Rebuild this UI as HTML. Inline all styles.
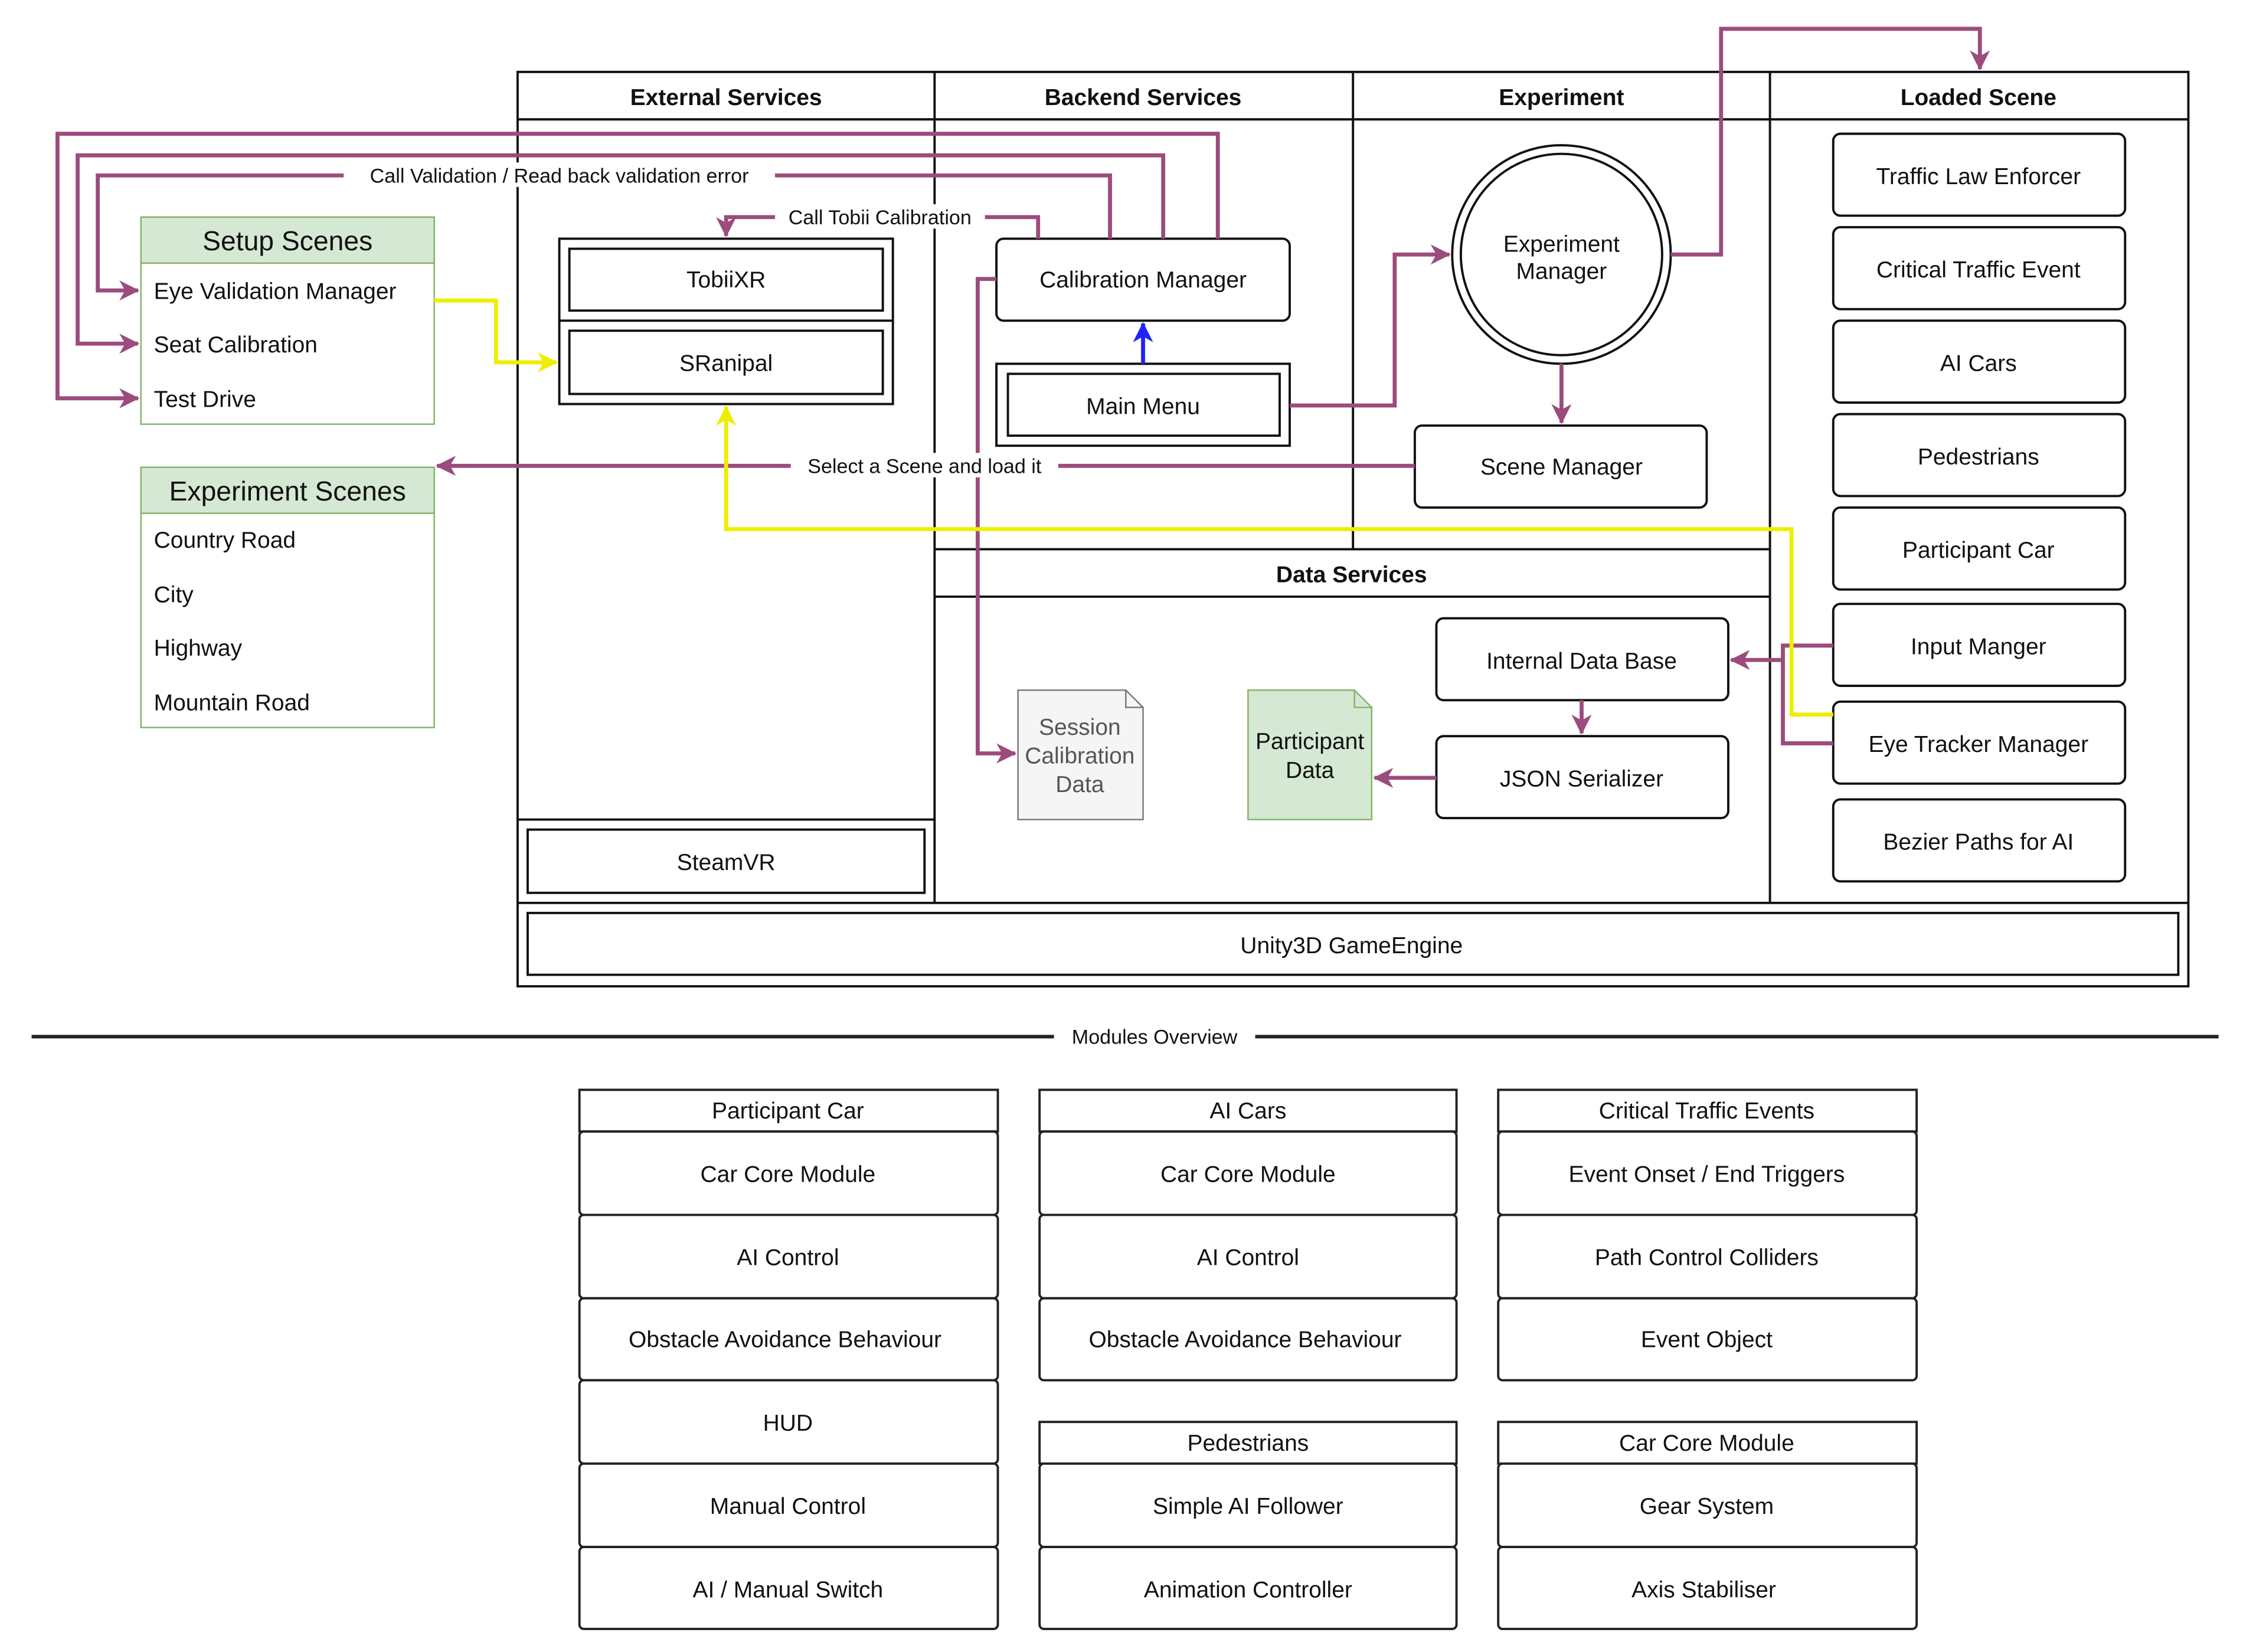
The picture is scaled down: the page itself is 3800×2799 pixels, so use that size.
<!DOCTYPE html>
<html><head><meta charset="utf-8"><style>
html,body{margin:0;padding:0;background:#fff;}
svg{display:block;}
text{font-family:"Liberation Sans",sans-serif;fill:#111;}
</style></head><body>
<svg width="3800" height="2799" viewBox="0 0 1560 1149" xmlns="http://www.w3.org/2000/svg">
<defs>
<marker id="ap" markerWidth="14" markerHeight="14" refX="13" refY="7" orient="auto" markerUnits="userSpaceOnUse"><path d="M0,0 L14,7 L0,14 L4,7 z" fill="#9b4c7c"/></marker>
<marker id="ay" markerWidth="14" markerHeight="14" refX="13" refY="7" orient="auto" markerUnits="userSpaceOnUse"><path d="M0,0 L14,7 L0,14 L4,7 z" fill="#eeee00"/></marker>
<marker id="ab" markerWidth="14" markerHeight="14" refX="13" refY="7" orient="auto" markerUnits="userSpaceOnUse"><path d="M0,0 L14,7 L0,14 L4,7 z" fill="#2222ff"/></marker>
</defs>
<rect width="1560" height="1149" fill="#fff"/>
<g fill="none" stroke="#111" stroke-width="1.6">
<rect x="360" y="50" width="1162" height="636"/>
<line x1="360" y1="83" x2="1522" y2="83"/>
<line x1="650" y1="50" x2="650" y2="628"/>
<line x1="941" y1="50" x2="941" y2="382"/>
<line x1="1231" y1="50" x2="1231" y2="628"/>
<line x1="650" y1="382" x2="1231" y2="382"/>
<line x1="650" y1="415" x2="1231" y2="415"/>
<line x1="360" y1="570" x2="650" y2="570"/>
<line x1="360" y1="628" x2="1522" y2="628"/>
<rect x="367" y="635" width="1148" height="43"/>
<rect x="367" y="577" width="276" height="44"/>
<rect x="389" y="166" width="232" height="115"/>
<line x1="389" y1="223" x2="621" y2="223"/>
<rect x="396" y="173" width="218" height="43"/>
<rect x="396" y="230" width="218" height="44"/>
<rect x="693" y="166" width="204" height="57" rx="5"/>
<rect x="693" y="253" width="204" height="57"/>
<rect x="701" y="260" width="189" height="43"/>
<circle cx="1086" cy="177" r="76"/>
<circle cx="1086" cy="177" r="70"/>
<rect x="984" y="296" width="203" height="57" rx="5"/>
<rect x="999" y="430" width="203" height="57" rx="5"/>
<rect x="999" y="512" width="203" height="57" rx="5"/>
<rect x="1275" y="93" width="203" height="57" rx="5"/>
<rect x="1275" y="158" width="203" height="57" rx="5"/>
<rect x="1275" y="223" width="203" height="57" rx="5"/>
<rect x="1275" y="288" width="203" height="57" rx="5"/>
<rect x="1275" y="353" width="203" height="57" rx="5"/>
<rect x="1275" y="420" width="203" height="57" rx="5"/>
<rect x="1275" y="488" width="203" height="57" rx="5"/>
<rect x="1275" y="556" width="203" height="57" rx="5"/>
</g>
<path d="M708,480 H783 L795,492 V570 H708 Z" fill="#f5f5f5" stroke="#777" stroke-width="1"/>
<path d="M783,480 V492 H795" fill="none" stroke="#777"/>
<path d="M868,480 H942 L954,492 V570 H868 Z" fill="#d5e8d4" stroke="#82b366" stroke-width="1"/>
<path d="M942,480 V492 H954" fill="none" stroke="#82b366"/>
<rect x="98" y="151" width="204" height="144" fill="#fff" stroke="#82b366"/>
<rect x="98" y="151" width="204" height="32" fill="#d5e8d4" stroke="#82b366"/>
<rect x="98" y="325" width="204" height="181" fill="#fff" stroke="#82b366"/>
<rect x="98" y="325" width="204" height="32" fill="#d5e8d4" stroke="#82b366"/>
<g fill="none" stroke="#9b4c7c" stroke-width="2.8">
<path d="M847,166 V93 H40 V277 H96" marker-end="url(#ap)"/>
<path d="M809,166 V108 H54 V239 H96" marker-end="url(#ap)"/>
<path d="M772,166 V122 H68 V202 H96" marker-end="url(#ap)"/>
<path d="M722,166 V151 H505 V164" marker-end="url(#ap)"/>
<path d="M693,194 H680 V524 H706" marker-end="url(#ap)"/>
<path d="M897,282 H970 V177 H1008" marker-end="url(#ap)"/>
<path d="M1162,177 H1197 V20 H1377 V48" marker-end="url(#ap)"/>
<path d="M1086,253 V294" marker-end="url(#ap)"/>
<path d="M984,324 H304" marker-end="url(#ap)"/>
<path d="M1275,449 H1240 V517 H1275"/>
<path d="M1240,459 H1204" marker-end="url(#ap)"/>
<path d="M1100,487 V510" marker-end="url(#ap)"/>
<path d="M999,541 H956" marker-end="url(#ap)"/>
</g>
<g fill="none" stroke="#eeee00" stroke-width="2.8">
<path d="M302,209 H345 V252 H387" marker-end="url(#ay)"/>
<path d="M1275,497 H1246 V368 H505 V283" marker-end="url(#ay)"/>
</g>
<path d="M795,253 V225" stroke="#2222ff" stroke-width="2.8" fill="none" marker-end="url(#ab)"/>
<g font-size="14" text-anchor="middle">
<rect x="239" y="113" width="300" height="17" fill="#fff"/>
<text x="389" y="127">Call Validation / Read back validation error</text>
<rect x="539" y="142" width="146" height="17" fill="#fff"/>
<text x="612" y="156">Call Tobii Calibration</text>
<rect x="550" y="315" width="186" height="17" fill="#fff"/>
<text x="643" y="329">Select a Scene and load it</text>
</g>
<g font-size="16" text-anchor="middle">
<text x="505" y="73" font-weight="bold">External Services</text>
<text x="795" y="73" font-weight="bold">Backend Services</text>
<text x="1086" y="73" font-weight="bold">Experiment</text>
<text x="1376" y="73" font-weight="bold">Loaded Scene</text>
<text x="940" y="405" font-weight="bold">Data Services</text>
<text x="505" y="200">TobiiXR</text>
<text x="505" y="258">SRanipal</text>
<text x="795" y="200">Calibration Manager</text>
<text x="795" y="288">Main Menu</text>
<text x="1086" y="175">Experiment</text>
<text x="1086" y="194">Manager</text>
<text x="1086" y="330">Scene Manager</text>
<text x="1100" y="465">Internal Data Base</text>
<text x="1100" y="547">JSON Serializer</text>
<text x="505" y="605">SteamVR</text>
<text x="940" y="663">Unity3D GameEngine</text>
<text x="1376" y="128">Traffic Law Enforcer</text>
<text x="1376" y="193">Critical Traffic Event</text>
<text x="1376" y="258">AI Cars</text>
<text x="1376" y="323">Pedestrians</text>
<text x="1376" y="388">Participant Car</text>
<text x="1376" y="455">Input Manger</text>
<text x="1376" y="523">Eye Tracker Manager</text>
<text x="1376" y="591">Bezier Paths for AI</text>
<text x="911" y="521">Participant</text>
<text x="911" y="541">Data</text>
<text x="751" y="511" style="fill:#555">Session</text>
<text x="751" y="531" style="fill:#555">Calibration</text>
<text x="751" y="551" style="fill:#555">Data</text>
<text x="200" y="174" font-size="19">Setup Scenes</text>
<text x="200" y="348" font-size="19">Experiment Scenes</text>
</g>
<g font-size="16">
<text x="107" y="208">Eye Validation Manager</text>
<text x="107" y="245">Seat Calibration</text>
<text x="107" y="283">Test Drive</text>
<text x="107" y="381">Country Road</text>
<text x="107" y="419">City</text>
<text x="107" y="456">Highway</text>
<text x="107" y="494">Mountain Road</text>
</g>
<line x1="22" y1="721" x2="1543" y2="721" stroke="#222" stroke-width="2.5"/>
<rect x="733" y="712" width="140" height="18" fill="#fff"/>
<text x="803" y="726" font-size="14" text-anchor="middle">Modules Overview</text>
<g fill="#fff" stroke="#222" stroke-width="1.6">
<rect x="403" y="758" width="291" height="29"/>
<rect x="403" y="787" width="291" height="58" rx="3"/>
<rect x="403" y="845" width="291" height="58" rx="3"/>
<rect x="403" y="903" width="291" height="57" rx="3"/>
<rect x="403" y="960" width="291" height="58" rx="3"/>
<rect x="403" y="1018" width="291" height="58" rx="3"/>
<rect x="403" y="1076" width="291" height="57" rx="3"/>
<rect x="723" y="758" width="290" height="29"/>
<rect x="723" y="787" width="290" height="58" rx="3"/>
<rect x="723" y="845" width="290" height="58" rx="3"/>
<rect x="723" y="903" width="290" height="57" rx="3"/>
<rect x="1042" y="758" width="291" height="29"/>
<rect x="1042" y="787" width="291" height="58" rx="3"/>
<rect x="1042" y="845" width="291" height="58" rx="3"/>
<rect x="1042" y="903" width="291" height="57" rx="3"/>
<rect x="723" y="989" width="290" height="29"/>
<rect x="723" y="1018" width="290" height="58" rx="3"/>
<rect x="723" y="1076" width="290" height="57" rx="3"/>
<rect x="1042" y="989" width="291" height="29"/>
<rect x="1042" y="1018" width="291" height="58" rx="3"/>
<rect x="1042" y="1076" width="291" height="57" rx="3"/>
</g>
<g font-size="16" text-anchor="middle">
<text x="548" y="778">Participant Car</text>
<text x="548" y="822">Car Core Module</text>
<text x="548" y="880">AI Control</text>
<text x="546" y="937">Obstacle Avoidance Behaviour</text>
<text x="548" y="995">HUD</text>
<text x="548" y="1053">Manual Control</text>
<text x="548" y="1111">AI / Manual Switch</text>
<text x="868" y="778">AI Cars</text>
<text x="868" y="822">Car Core Module</text>
<text x="868" y="880">AI Control</text>
<text x="866" y="937">Obstacle Avoidance Behaviour</text>
<text x="1187" y="778">Critical Traffic Events</text>
<text x="1187" y="822">Event Onset / End Triggers</text>
<text x="1187" y="880">Path Control Colliders</text>
<text x="1187" y="937">Event Object</text>
<text x="868" y="1009">Pedestrians</text>
<text x="868" y="1053">Simple AI Follower</text>
<text x="868" y="1111">Animation Controller</text>
<text x="1187" y="1009">Car Core Module</text>
<text x="1187" y="1053">Gear System</text>
<text x="1185" y="1111">Axis Stabiliser</text>
</g>
</svg>
</body></html>
